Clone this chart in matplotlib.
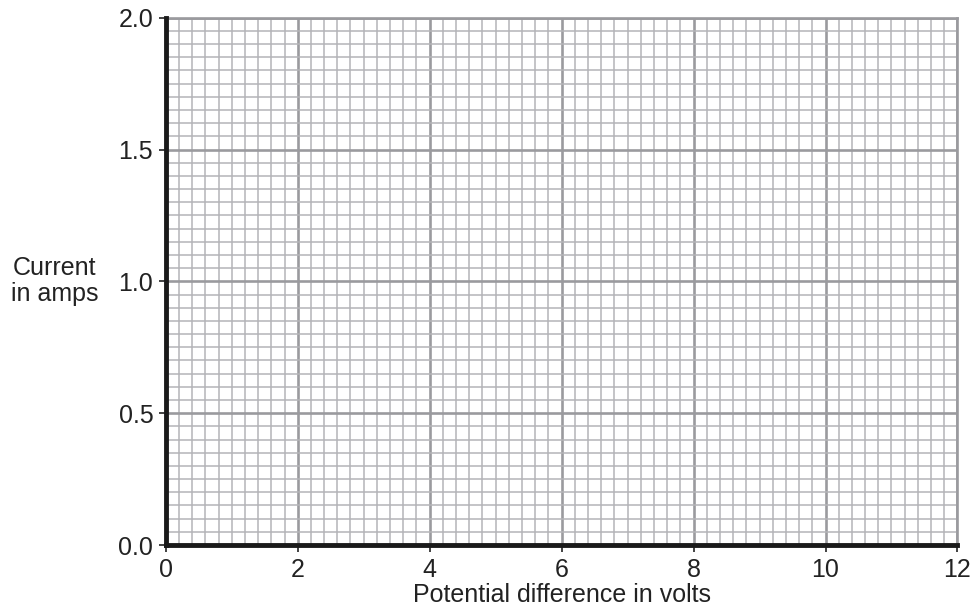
"""
Blank current vs potential difference grid.
"""

import matplotlib.pyplot as plt
import numpy as np

plt.rcParams["font.family"] = ["Liberation Sans", "DejaVu Sans"]

x_ticks = [0, 2, 4, 6, 8, 10, 12]
y_ticks = [0.0, 0.5, 1.0, 1.5, 2.0]
x_label = "Potential difference in volts"
y_label = "Current\nin amps"


def draw_grid():
    fig = plt.figure(figsize=(9.75, 6.11), dpi=100)
    ax = fig.add_axes([0.170, 0.108, 0.812, 0.863])

    ax.set_xlim(x_ticks[0], x_ticks[-1])
    ax.set_ylim(y_ticks[0], y_ticks[-1])

    # minor grid: 10 squares per major division
    ax.set_xticks(np.arange(0, 12.001, 0.2), minor=True)
    ax.set_yticks(np.arange(0, 2.0001, 0.05), minor=True)
    ax.set_xticks(x_ticks)
    ax.set_yticks(y_ticks)
    ax.set_xticklabels([str(t) for t in x_ticks])
    ax.set_yticklabels([f"{t:.1f}" for t in y_ticks])

    ax.grid(True, which="minor", color="#b4b4b8", linewidth=1.1)
    ax.grid(True, which="major", color="#9a9a9e", linewidth=1.9)
    ax.set_axisbelow(True)

    ax.tick_params(which="minor", length=0)
    ax.tick_params(which="major", length=5, width=1.2, color="#222222",
                   labelsize=18, labelcolor="#222222")
    ax.tick_params(axis="x", which="major", pad=4)
    ax.tick_params(axis="y", which="major", pad=4)

    for side in ["left", "bottom"]:
        ax.spines[side].set_linewidth(3.5)
        ax.spines[side].set_color("#1a1a1a")
        ax.spines[side].set_zorder(5)
    for side in ["top", "right"]:
        ax.spines[side].set_linewidth(1.9)
        ax.spines[side].set_color("#9a9a9e")

    ax.set_xlabel(x_label, fontsize=18, color="#222222", labelpad=1)
    ax.set_ylabel(y_label, fontsize=18, color="#222222", rotation=0,
                  ha="center", va="center", labelpad=46, linespacing=1.1)

    plt.savefig("out.png", dpi=100)


if __name__ == "__main__":
    draw_grid()
